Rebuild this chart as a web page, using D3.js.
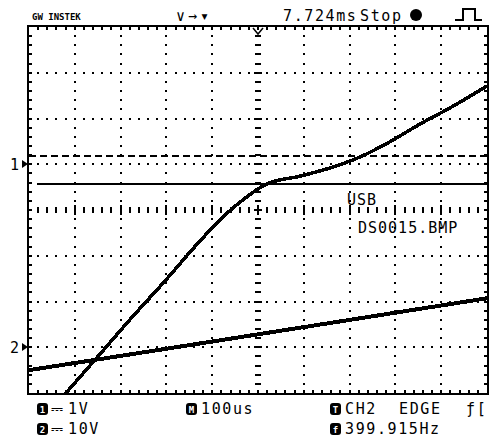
<!DOCTYPE html>
<html><head><meta charset="utf-8">
<script src="https://cdn.jsdelivr.net/npm/d3@7"></script>
<style>
html,body{margin:0;padding:0;background:#fff;}
svg{display:block;}
text{font-family:"DejaVu Sans Mono",monospace;fill:#000;}
</style></head>
<body>
<script>
// ---- data ----
const timeDomain = [-500, 500];          // us, 100us/div, trigger at centre
const divDomain = [-4, 4];               // vertical divisions
const ch1Scale = 1;                      // V/div
const ch2Scale = 10;                     // V/div
const ch1Offset = 1;                     // ground marker position (div)
const ch2Offset = -3;
// CH1 trace (time us, volts)
const ch1Time = [-421, -345, -280, -203, -127, -72, -28, 0, 20, 92, 164, 223, 288, 354, 419, 500];
const ch1Volt = [-5.02, -4.15, -3.40, -2.55, -1.68, -1.11, -0.74, -0.54, -0.43, -0.26, -0.06, 0.16, 0.49, 0.88, 1.23, 1.71];
// CH2 trace
const ch2Time = [-500, -250, 0, 250, 500];
const ch2Volt = [-5.0, -1.11, 2.82, 6.77, 10.7];
// cursor / level lines (div)
const dashedLevel = 1.18;
const solidLevel = 0.57;
// texts
const topDelay = "7.724ms";
const stateLabel = "Stop";
const ch1Label = "1V", ch2Label = "10V", timebaseLabel = "100us";
const trigSource = "CH2", trigType = "EDGE", freqLabel = "399.915Hz";
const usbLabel = "USB", fileLabel = "DS0015.BMP";

const W = 490, H = 440;
const svg = d3.select("body").append("svg").attr("width", W).attr("height", H);

const x = d3.scaleLinear().domain(timeDomain).range([29, 487]);
const y = d3.scaleLinear().domain(divDomain).range([393, 27]);
const L = x(-500), R = x(500), T = y(4), B = y(-4);

const g = svg.append("g").attr("shape-rendering", "crispEdges");

// grid dots
for (let i = -4; i <= 4; i++) {
  if (i === 0) continue;
  const gx = Math.round(x(i * 100));
  for (let k = 1; k < 40; k++) {
    const gy = Math.round(y(4 - k / 5));
    g.append("rect").attr("x", gx - 1).attr("y", gy - 1).attr("width", 2).attr("height", 2);
  }
}
for (let j = -3; j <= 3; j++) {
  if (j === 0) continue;
  const gy = Math.round(y(j));
  for (let k = 1; k < 50; k++) {
    const gx = Math.round(x(-500 + k * 20));
    g.append("rect").attr("x", gx - 1).attr("y", gy - 1).attr("width", 2).attr("height", 2);
  }
}
// centre horizontal line ticks
const cy = Math.round(y(0)), cx = Math.round(x(0));
for (let k = 1; k < 50; k++) {
  const gx = Math.round(x(-500 + k * 20));
  const major = k % 5 === 0;
  g.append("rect").attr("x", gx - 1).attr("y", cy - (major ? 5 : 3)).attr("width", 2).attr("height", major ? 10 : 6);
}
// centre vertical line ticks
for (let k = 1; k < 40; k++) {
  const gy = Math.round(y(4 - k / 5));
  const major = k % 5 === 0;
  g.append("rect").attr("x", cx - (major ? 4 : 3)).attr("y", gy - 1).attr("width", major ? 8 : 6).attr("height", 2);
}
// border ticks
for (let k = 1; k < 50; k++) {
  const gx = Math.round(x(-500 + k * 20));
  g.append("rect").attr("x", gx - 1).attr("y", T).attr("width", 2).attr("height", 3);
  g.append("rect").attr("x", gx - 1).attr("y", B - 3).attr("width", 2).attr("height", 3);
}
for (let k = 1; k < 40; k++) {
  const gy = Math.round(y(4 - k / 5));
  g.append("rect").attr("x", L).attr("y", gy - 1).attr("width", 3).attr("height", 2);
  g.append("rect").attr("x", R - 3).attr("y", gy - 1).attr("width", 3).attr("height", 2);
}
// frame
g.append("rect").attr("x", L - 1).attr("y", T - 1).attr("width", R - L + 2).attr("height", B - T + 2)
  .attr("fill", "none").attr("stroke", "#000").attr("stroke-width", 2);

// level lines
g.append("line").attr("x1", L).attr("x2", R).attr("y1", Math.round(y(dashedLevel))).attr("y2", Math.round(y(dashedLevel)))
  .attr("stroke", "#000").attr("stroke-width", 1.5).attr("stroke-dasharray", "7,4");
g.append("line").attr("x1", L + 8).attr("x2", R).attr("y1", Math.round(y(solidLevel))).attr("y2", Math.round(y(solidLevel)))
  .attr("stroke", "#000").attr("stroke-width", 2);

// traces
svg.append("clipPath").attr("id", "cp").append("rect").attr("x", L).attr("y", T).attr("width", R - L).attr("height", B - T);
const ch1 = ch1Time.map((t, i) => [x(t), y(ch1Volt[i] / ch1Scale + ch1Offset)]);
const ch2 = ch2Time.map((t, i) => [x(t), y(ch2Volt[i] / ch2Scale + ch2Offset)]);
const line = d3.line().curve(d3.curveMonotoneX);
const tr = svg.append("g").attr("clip-path", "url(#cp)").attr("shape-rendering", "crispEdges");
tr.append("path").attr("d", line(ch1)).attr("fill", "none").attr("stroke", "#000").attr("stroke-width", 3.5);
tr.append("path").attr("d", line(ch2)).attr("fill", "none").attr("stroke", "#000").attr("stroke-width", 4);

// channel markers
function marker(label, yy) {
  svg.append("text").attr("x", 10).attr("y", yy + 6).attr("font-size", 15).text(label);
  svg.append("path").attr("d", `M22,${yy - 4}L28,${yy}L22,${yy + 4}Z`).attr("fill", "#000");
}
marker("1", Math.round(y(ch1Offset)));
marker("2", Math.round(y(ch2Offset)));

// trigger position marker
svg.append("path").attr("d", `M${cx - 5},${T + 1}L${cx},${T + 7}L${cx + 5},${T + 1}`).attr("fill", "none").attr("stroke", "#000").attr("stroke-width", 1.5);

// top bar
svg.append("text").attr("x", 32).attr("y", 20).attr("font-size", 9).attr("font-weight", "bold").attr("font-family", "DejaVu Sans").text("GW INSTEK");
svg.append("text").attr("x", 176).attr("y", 21).attr("font-size", 15).attr("letter-spacing", 3).attr("font-family", "DejaVu Sans").text("∨→▾");
svg.append("text").attr("x", 283).attr("y", 21).attr("font-size", 15).attr("letter-spacing", 1.6).text(topDelay);
svg.append("text").attr("x", 360).attr("y", 21).attr("font-size", 15).attr("letter-spacing", 1.6).text(stateLabel);
svg.append("circle").attr("cx", 416).attr("cy", 15).attr("r", 6);
svg.append("path").attr("d", "M455,20H463V9H475V20H482").attr("fill", "none").attr("stroke", "#000").attr("stroke-width", 2);

// in-plot labels
svg.append("text").attr("x", 347).attr("y", 205).attr("font-size", 15).attr("letter-spacing", 1.0).text(usbLabel);
svg.append("text").attr("x", 358).attr("y", 233).attr("font-size", 15).attr("letter-spacing", 1.0).text(fileLabel);

// bottom bar
function badge(xx, yy, ch) {
  svg.append("rect").attr("x", xx).attr("y", yy - 11).attr("width", 11).attr("height", 12).attr("rx", 3);
  svg.append("text").attr("x", xx + 5.5).attr("y", yy - 1).attr("text-anchor", "middle").attr("font-size", 9).attr("font-weight", "bold").style("fill", "#fff").text(ch);
}
function dcSym(xx, yy) {
  svg.append("text").attr("x", xx).attr("y", yy).attr("font-size", 15).attr("font-family", "DejaVu Sans").text("⎓");
}
badge(37, 414, "1");
dcSym(51, 414);
svg.append("text").attr("x", 68).attr("y", 414).attr("font-size", 15).attr("letter-spacing", 1.6).text(ch1Label);
badge(37, 434, "2");
dcSym(51, 434);
svg.append("text").attr("x", 68).attr("y", 434).attr("font-size", 15).attr("letter-spacing", 1.6).text(ch2Label);
badge(186, 414, "M");
svg.append("text").attr("x", 201).attr("y", 414).attr("font-size", 15).attr("letter-spacing", 1.6).text(timebaseLabel);
badge(330, 414, "T");
svg.append("text").attr("x", 345).attr("y", 414).attr("font-size", 15).attr("letter-spacing", 1.6).text(trigSource);
svg.append("text").attr("x", 399).attr("y", 414).attr("font-size", 15).attr("letter-spacing", 1.6).text(trigType);
svg.append("text").attr("x", 466).attr("y", 414).attr("font-size", 15).attr("letter-spacing", 1.6).text("ƒ[");
badge(330, 434, "f");
svg.append("text").attr("x", 345).attr("y", 434).attr("font-size", 15).attr("letter-spacing", 1.6).text(freqLabel);
</script>
</body></html>
